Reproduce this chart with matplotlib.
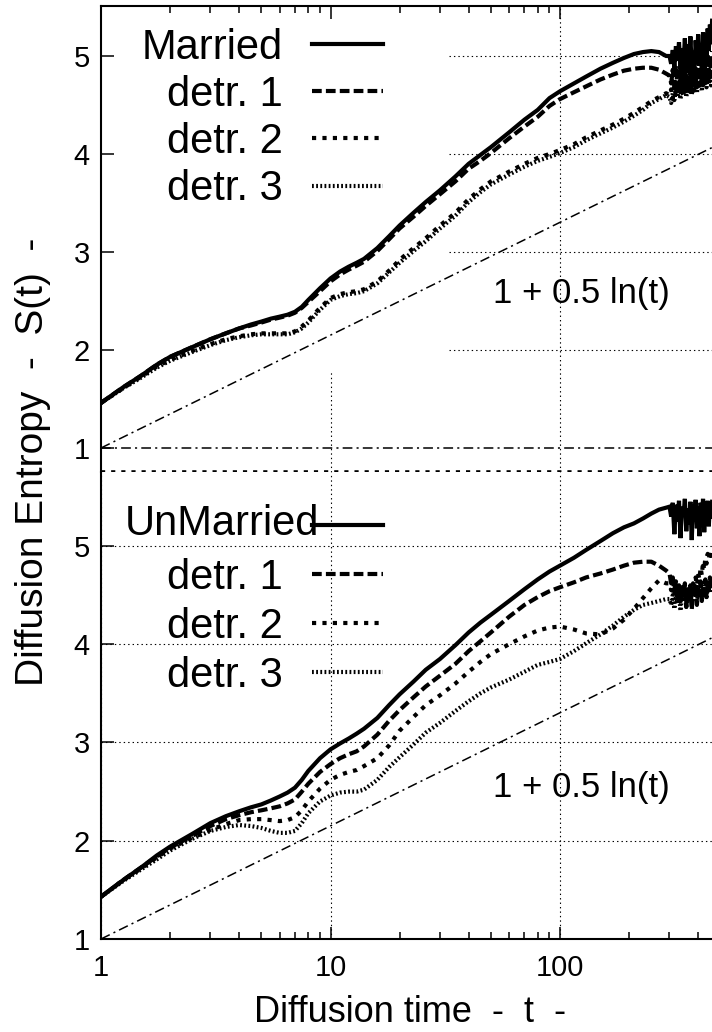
import matplotlib
matplotlib.use("Agg")
import matplotlib.pyplot as plt
from matplotlib.ticker import NullFormatter, LogLocator

plt.rcParams['font.family'] = ['Liberation Sans', 'DejaVu Sans']
plt.rcParams['lines.scale_dashes'] = False

# diffusion time grid (smooth part) and noisy tail
t = [1, 1.25, 1.5, 1.75, 2, 2.5, 3, 3.5, 4, 4.5, 5, 5.5, 6, 6.5, 7, 7.5, 8, 9,
     10, 11, 12, 13, 14, 16, 18, 20, 23, 26, 30, 35, 40, 45, 50, 60, 70, 80,
     90, 100, 115, 130, 150, 170, 190, 210, 230, 250, 270, 290]
t_tail = [300, 305, 310, 315, 320, 325, 330, 335, 340, 345, 350, 355, 360,
          365, 370, 375, 380, 385, 390, 395, 400, 405, 410, 415, 420, 425,
          430, 435, 440, 445, 450, 455, 460]

# --- Married panel ---
married = [1.46, 1.62, 1.74, 1.85, 1.93, 2.03, 2.11, 2.17, 2.22, 2.26, 2.29,
           2.32, 2.34, 2.36, 2.39, 2.44, 2.51, 2.63, 2.73, 2.80, 2.85, 2.89,
           2.93, 3.04, 3.16, 3.27, 3.40, 3.51, 3.63, 3.77, 3.90, 3.99, 4.07,
           4.22, 4.35, 4.45, 4.57, 4.64, 4.72, 4.79, 4.87, 4.93, 4.98, 5.02,
           5.04, 5.05, 5.04, 5.00]
married_tail = [5.00, 4.92, 5.06, 4.88, 5.10, 4.95, 5.14, 4.86, 5.08, 4.90,
                5.18, 4.84, 5.12, 4.93, 5.20, 4.88, 5.05, 4.82, 5.16, 4.95,
                5.22, 4.90, 5.10, 4.86, 5.24, 4.98, 5.15, 4.92, 5.28, 5.05,
                5.32, 5.12, 5.36]
m_detr1 = [1.46, 1.62, 1.74, 1.85, 1.93, 2.03, 2.11, 2.17, 2.22, 2.25, 2.28,
           2.31, 2.33, 2.35, 2.38, 2.43, 2.49, 2.60, 2.70, 2.77, 2.82, 2.86,
           2.90, 3.01, 3.13, 3.24, 3.36, 3.47, 3.59, 3.72, 3.85, 3.93, 4.01,
           4.16, 4.28, 4.38, 4.49, 4.56, 4.63, 4.69, 4.76, 4.81, 4.85, 4.87,
           4.88, 4.88, 4.86, 4.82]
m_detr1_tail = [4.80, 4.72, 4.86, 4.70, 4.90, 4.68, 4.84, 4.62, 4.92, 4.70,
                4.88, 4.64, 4.95, 4.72, 4.85, 4.66, 4.98, 4.74, 4.90, 4.68,
                4.96, 4.75, 4.88, 4.70, 5.00, 4.78, 4.92, 4.74, 5.02, 4.82,
                4.95, 4.80, 5.05]
m_detr2 = [1.46, 1.61, 1.73, 1.83, 1.90, 1.99, 2.06, 2.11, 2.14, 2.16, 2.17,
           2.17, 2.17, 2.17, 2.19, 2.24, 2.30, 2.43, 2.53, 2.57, 2.59, 2.60,
           2.62, 2.70, 2.81, 2.92, 3.04, 3.14, 3.27, 3.40, 3.54, 3.64, 3.72,
           3.82, 3.90, 3.96, 4.00, 4.04, 4.10, 4.17, 4.24, 4.30, 4.36, 4.42,
           4.48, 4.54, 4.58, 4.62]
m_detr2_tail = [4.60, 4.66, 4.56, 4.70, 4.58, 4.72, 4.62, 4.76, 4.60, 4.74,
                4.66, 4.80, 4.62, 4.78, 4.68, 4.82, 4.64, 4.80, 4.70, 4.84,
                4.66, 4.82, 4.72, 4.86, 4.70, 4.84, 4.75, 4.88, 4.72, 4.86,
                4.78, 4.90, 4.80]
m_detr3 = [1.46, 1.61, 1.72, 1.82, 1.89, 1.98, 2.05, 2.10, 2.13, 2.15, 2.16,
           2.16, 2.16, 2.16, 2.18, 2.22, 2.28, 2.41, 2.51, 2.55, 2.57, 2.58,
           2.60, 2.68, 2.79, 2.89, 3.01, 3.11, 3.24, 3.37, 3.51, 3.61, 3.69,
           3.79, 3.87, 3.93, 3.97, 4.01, 4.07, 4.14, 4.21, 4.27, 4.33, 4.39,
           4.45, 4.52, 4.56, 4.60]
m_detr3_tail = [4.58, 4.52, 4.62, 4.55, 4.66, 4.58, 4.70, 4.56, 4.68, 4.60,
                4.72, 4.58, 4.70, 4.64, 4.74, 4.60, 4.72, 4.66, 4.76, 4.62,
                4.74, 4.68, 4.78, 4.64, 4.76, 4.70, 4.80, 4.68, 4.78, 4.72,
                4.82, 4.70, 4.80]

# --- UnMarried panel ---
unmarried = [1.43, 1.60, 1.73, 1.85, 1.94, 2.07, 2.18, 2.25, 2.30, 2.34, 2.37,
             2.41, 2.45, 2.49, 2.54, 2.62, 2.71, 2.84, 2.93, 2.99, 3.04, 3.09,
             3.14, 3.25, 3.38, 3.49, 3.62, 3.74, 3.85, 3.99, 4.12, 4.22, 4.30,
             4.44, 4.56, 4.66, 4.74, 4.80, 4.88, 4.96, 5.05, 5.13, 5.19, 5.23,
             5.28, 5.33, 5.37, 5.39]
unmarried_tail = [5.40, 5.30, 5.44, 5.12, 5.42, 5.25, 5.46, 5.08, 5.40, 5.30,
                  5.48, 5.15, 5.38, 5.22, 5.45, 5.06, 5.42, 5.28, 5.47, 5.18,
                  5.40, 5.10, 5.44, 5.26, 5.48, 5.14, 5.42, 5.30, 5.46, 5.20,
                  5.44, 5.28, 5.45]
u_detr1 = [1.43, 1.60, 1.73, 1.84, 1.93, 2.05, 2.15, 2.22, 2.26, 2.29, 2.31,
           2.33, 2.35, 2.38, 2.42, 2.50, 2.58, 2.70, 2.78, 2.84, 2.88, 2.91,
           2.96, 3.08, 3.22, 3.33, 3.46, 3.57, 3.68, 3.80, 3.93, 4.03, 4.12,
           4.28, 4.40, 4.48, 4.54, 4.58, 4.63, 4.68, 4.72, 4.76, 4.80, 4.83,
           4.84, 4.84, 4.80, 4.75]
u_detr1_tail = [4.72, 4.62, 4.68, 4.55, 4.64, 4.48, 4.60, 4.42, 4.58, 4.50,
                4.62, 4.38, 4.56, 4.46, 4.60, 4.35, 4.55, 4.48, 4.62, 4.40,
                4.58, 4.50, 4.64, 4.44, 4.60, 4.52, 4.66, 4.48, 4.62, 4.55,
                4.68, 4.58, 4.65]
u_detr2 = [1.43, 1.60, 1.72, 1.83, 1.92, 2.03, 2.11, 2.17, 2.21, 2.22, 2.22,
           2.21, 2.20, 2.21, 2.24, 2.31, 2.40, 2.53, 2.62, 2.67, 2.70, 2.72,
           2.76, 2.84, 2.97, 3.12, 3.26, 3.38, 3.48, 3.60, 3.72, 3.82, 3.90,
           4.00, 4.08, 4.14, 4.17, 4.18, 4.15, 4.11, 4.10, 4.16, 4.25, 4.36,
           4.47, 4.57, 4.65, 4.62]
u_detr2_tail = [4.62, 4.55, 4.60, 4.48, 4.56, 4.45, 4.58, 4.40, 4.54, 4.46,
                4.56, 4.42, 4.52, 4.48, 4.58, 4.50, 4.62, 4.55, 4.68, 4.60,
                4.72, 4.66, 4.78, 4.70, 4.84, 4.76, 4.88, 4.82, 4.92, 4.86,
                4.95, 4.90, 4.96]
u_detr3 = [1.43, 1.59, 1.71, 1.81, 1.90, 2.02, 2.10, 2.14, 2.16, 2.15, 2.13,
           2.10, 2.08, 2.08, 2.10, 2.18, 2.28, 2.40, 2.46, 2.49, 2.50, 2.50,
           2.52, 2.62, 2.75, 2.85, 2.98, 3.10, 3.20, 3.32, 3.42, 3.50, 3.56,
           3.64, 3.72, 3.79, 3.82, 3.85, 3.93, 4.01, 4.10, 4.19, 4.28, 4.35,
           4.40, 4.42, 4.44, 4.46]
u_detr3_tail = [4.46, 4.40, 4.50, 4.36, 4.48, 4.42, 4.52, 4.34, 4.50, 4.44,
                4.54, 4.38, 4.52, 4.46, 4.56, 4.40, 4.54, 4.48, 4.56, 4.42,
                4.55, 4.50, 4.58, 4.44, 4.56, 4.52, 4.60, 4.48, 4.58, 4.54,
                4.62, 4.52, 4.60]

# reference curve 1 + 0.5 ln(t), straight on a log axis
ref_t = [1, 1000]
ref_s = [1.0, 4.454]

panels = [
    ("Married", [married + married_tail, m_detr1 + m_detr1_tail,
                 m_detr2 + m_detr2_tail, m_detr3 + m_detr3_tail]),
    ("UnMarried", [unmarried + unmarried_tail, u_detr1 + u_detr1_tail,
                   u_detr2 + u_detr2_tail, u_detr3 + u_detr3_tail]),
]
labels_detr = ["detr. 1", "detr. 2", "detr. 3"]
styles = ["-", (0, (7, 3)), (0, (3, 4.5)), (0, (1.3, 1.7))]
t_all = t + t_tail

fig = plt.figure(figsize=(7.12, 10.32), dpi=100)
W, H = 712.0, 1032.0
left = 101 / W
width = 688.5 / W
ax_top = fig.add_axes([left, (H - 472) / H, width, 466 / H])
ax_bot = fig.add_axes([left, (H - 939) / H, width, 467 / H])

grid_kw = dict(color='black', lw=0.8, ls=(0, (1, 2.2)), zorder=0.5)

for ax, (name, series), ylim in [(ax_top, panels[0], (0.755, 5.51)),
                                  (ax_bot, panels[1], (1.0, 5.753))]:
    top = ax is ax_top
    ax.set_xscale('log')
    ax.set_xlim(1, 1000)
    ax.set_ylim(*ylim)
    handles = []
    for s, ls in zip(series, styles):
        ln, = ax.plot(t_all, s, color='black', lw=3, ls=ls,
                      dash_capstyle='butt', solid_joinstyle='miter', zorder=3)
        handles.append(ln)
    ax.plot(ref_t, ref_s, color='black', lw=1.1, ls=(0, (7, 3, 1.5, 3)),
            zorder=2)
    ax.set_xticks([1, 10, 100])
    ax.xaxis.set_minor_locator(LogLocator(base=10, subs=range(2, 10)))
    ax.xaxis.set_minor_formatter(NullFormatter())
    ax.set_yticks([1, 2, 3, 4, 5])
    ax.tick_params(which='major', direction='in', length=9, width=1.1,
                   labelsize=21, pad=8)
    ax.tick_params(axis='x', which='major', pad=11)
    ax.tick_params(which='minor', direction='in', length=5, width=1.1)
    ax.tick_params(axis='y', which='both', right=False)
    for sp in ax.spines.values():
        sp.set_linewidth(1.5)
    ax.spines['right'].set_visible(False)
    # gnuplot-style key: text right-aligned against the line sample
    ax.legend(handles, [name if top else " "] + labels_detr,
              loc='upper right',
              bbox_to_anchor=(0.4096, 0.953 if top else 0.922),
              markerfirst=False, alignment='right', frameon=False,
              fontsize=30, handlelength=1.7, handletextpad=0.7,
              labelspacing=0.17 if top else 0.22,
              borderpad=0, borderaxespad=0)
    ax.text(123.6, 2.48 if top else 2.445, "1 + 0.5 ln(t)",
            ha='center', va='baseline', fontsize=25, zorder=4)

# the long "UnMarried" key title runs into its sample line, as in the original
ax_bot.text(0.317, 0.865, "UnMarried", transform=ax_bot.transAxes,
            ha='right', va='baseline', fontsize=30, zorder=4)

# top panel: partial grid, ticks on top spine, no x labels
ax_top.hlines([2, 3, 4, 5], 33, 1000, **grid_kw)
ax_top.vlines(100, 0.755, 5.51, **grid_kw)
ax_top.vlines(10, 0.755, 1.78, **grid_kw)
ax_top.axhline(1, color='black', lw=1.1, ls=(0, (7, 3, 1.5, 3)), zorder=2)
ax_top.spines['bottom'].set_visible(False)
ax_top.axhline(0.755, color='black', lw=2.6, ls=(0, (3, 4.3)),
               dash_capstyle='butt', clip_on=False, zorder=2)
ax_top.tick_params(axis='x', which='both', top=True, bottom=False,
                   labelbottom=False, labeltop=False)

# bottom panel: full grid, ticks on bottom spine
ax_bot.grid(True, which='major', color='black', lw=0.8, ls=(0, (1, 2.2)))
ax_bot.set_axisbelow(True)
ax_bot.spines['top'].set_visible(False)
ax_bot.tick_params(axis='x', which='both', top=False, bottom=True)
ax_bot.set_xticklabels(["1", "10", "100"])

fig.text(33 / W, (H - 462) / H, "Diffusion Entropy  -  S(t)  -",
         rotation=90, ha='center', va='center', fontsize=28)
fig.text(410 / W, 10 / H, "Diffusion time  -  t  -", ha='center',
         va='baseline', fontsize=26)

fig.savefig("out.png", dpi=100)
